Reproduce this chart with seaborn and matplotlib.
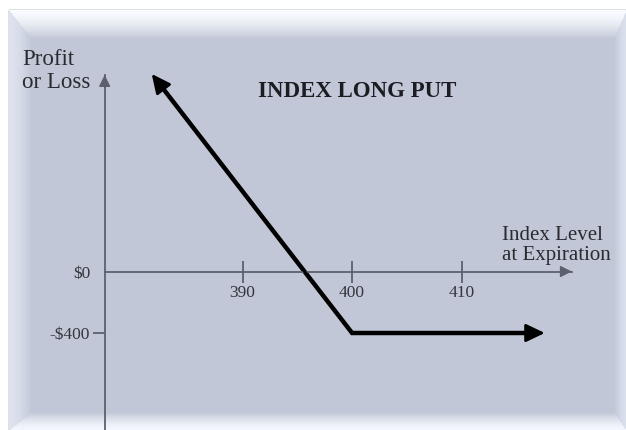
import numpy as np
import matplotlib
matplotlib.use("Agg")
import matplotlib.pyplot as plt
import pandas as pd
import seaborn as sns

# Long put payoff at expiration (strike 400, premium $400)
index_level = [381.7, 400.0, 417.6]
profit = [1285, -400, -400]

x_ticks = [390, 400, 410]
x_tick_labels = ["390", "400", "410"]
y_ticks = [0, -400]
y_tick_labels = ["$0", "-$400"]

title = "INDEX LONG PUT"
y_label = "Profit\nor Loss"
x_label = "Index Level\nat Expiration"

# axis extents (data units)
y_axis_at = 377.4
x_axis_end = 420.07
y_axis_top = 1278
y_axis_bottom = -1100

sns.set_style("white")
plt.rcParams["font.family"] = ["Liberation Serif", "DejaVu Serif"]

W, H = 626, 430
fig = plt.figure(figsize=(W / 100, H / 100), dpi=100)

# bevelled slate panel behind the chart
bg_ax = fig.add_axes([0, 0, 1, 1], zorder=0)
yy, xx = np.mgrid[0:H, 0:W].astype(float)
base = np.array([0.757, 0.784, 0.843])
edges = np.array([
    [0.975, 0.985, 1.000],  # top
    [0.870, 0.890, 0.935],  # left
    [0.860, 0.880, 0.930],  # right
    [0.960, 0.970, 0.995],  # bottom
])
p_left, p_top, p_right, p_bottom = 9, 10, W, H
d = np.stack([
    (yy - p_top) / 28.0,
    (xx - p_left) / 22.0,
    (p_right - xx) / 12.0,
    (p_bottom - yy) / 18.0,
])
k = np.argmin(d, axis=0)
m = np.clip(np.min(d, axis=0), 0, 1)
edge_col = edges[k]
img = edge_col + (base - edge_col) * (m[..., None] ** 1.6)
outside = (xx < p_left) | (yy < p_top)
img[outside] = 1.0
img[(yy >= p_top - 1) & (yy < p_top) & (xx >= p_left)] = 0.88
img[(xx >= p_left - 1) & (xx < p_left) & (yy >= p_top)] = 0.88
bg_ax.imshow(img, extent=(0, W, H, 0), aspect="auto", interpolation="bilinear")
bg_ax.set_axis_off()

ax = fig.add_axes([0, 0, 1, 1], zorder=1)
ax.patch.set_alpha(0)
ax.set_xlim(367.84, 425.02)
ax.set_ylim(-1030.9, 1765.9)

axis_col = "#5b606c"
label_col = "#33363d"

for s in ["top", "right"]:
    ax.spines[s].set_visible(False)
ax.spines["left"].set_position(("data", y_axis_at))
ax.spines["bottom"].set_position(("data", 0))
ax.spines["left"].set_bounds(y_axis_bottom, y_axis_top)
ax.spines["bottom"].set_bounds(y_axis_at, x_axis_end)
for s in ["left", "bottom"]:
    ax.spines[s].set_color(axis_col)
    ax.spines[s].set_linewidth(1.3)

ax.set_xticks(x_ticks, x_tick_labels)
ax.set_yticks(y_ticks, y_tick_labels)
ax.tick_params(axis="x", bottom=True, direction="inout", length=16, width=1.3,
               color=axis_col, labelsize=12.5, labelcolor=label_col, pad=2)
ax.tick_params(axis="y", left=True, direction="out", length=9, width=1.3,
               color=axis_col, labelsize=12.5, labelcolor=label_col, pad=1.5)
ax.yaxis.get_major_ticks()[0].tick1line.set_visible(False)

# axis arrowheads
axis_head = "-|>,head_length=0.7,head_width=0.35"
ax.annotate("", xy=(x_axis_end, 0), xytext=(x_axis_end - 1, 0),
            arrowprops=dict(arrowstyle=axis_head, color=axis_col, lw=1.0,
                            mutation_scale=10, shrinkA=0, shrinkB=0))
ax.annotate("", xy=(y_axis_at, y_axis_top), xytext=(y_axis_at, y_axis_top - 80),
            arrowprops=dict(arrowstyle=axis_head, color=axis_col, lw=1.0,
                            mutation_scale=10, shrinkA=0, shrinkB=0))

# payoff line
df = pd.DataFrame({"index_level": index_level, "profit": profit})
sns.lineplot(data=df, x="index_level", y="profit", sort=False, color="black",
             lw=3.2, ax=ax, solid_joinstyle="miter", solid_capstyle="butt")
ax.set_xlabel("")
ax.set_ylabel("")

# pull the line ends back under the arrowheads so the tips stay sharp
payoff_line = ax.lines[-1]
pts = ax.transData.transform(np.column_stack([index_level, profit]))
for end, nxt in ((0, 1), (-1, -2)):
    v = pts[end] - pts[nxt]
    pts[end] = pts[end] - v / np.hypot(*v) * 8
trimmed = ax.transData.inverted().transform(pts)
payoff_line.set_data(trimmed[:, 0], trimmed[:, 1])

head = "-|>,head_length=1.15,head_width=0.55"
ax.annotate("", xy=(index_level[0], profit[0]), xytext=(index_level[1], profit[1]),
            arrowprops=dict(arrowstyle=head, color="black", lw=2.0,
                            mutation_scale=10, shrinkA=0, shrinkB=0))
ax.annotate("", xy=(index_level[-1], profit[-1]), xytext=(index_level[-2], profit[-2]),
            arrowprops=dict(arrowstyle=head, color="black", lw=2.0,
                            mutation_scale=10, shrinkA=0, shrinkB=0))

# titles and axis captions
fig.text(357 / W, 1 - 97 / H, title, ha="center", va="baseline",
         fontsize=16.5, fontweight="bold", color="#1c1d22")
fig.text(22 / W, 1 - 88 / H, y_label, ha="left", va="baseline",
         fontsize=16.5, color="#2a2b30", linespacing=1.15)
fig.text(502 / W, 1 - 260 / H, x_label, ha="left", va="baseline",
         fontsize=15, color="#2a2b30", linespacing=1.07)

fig.savefig("out.png", dpi=100)
